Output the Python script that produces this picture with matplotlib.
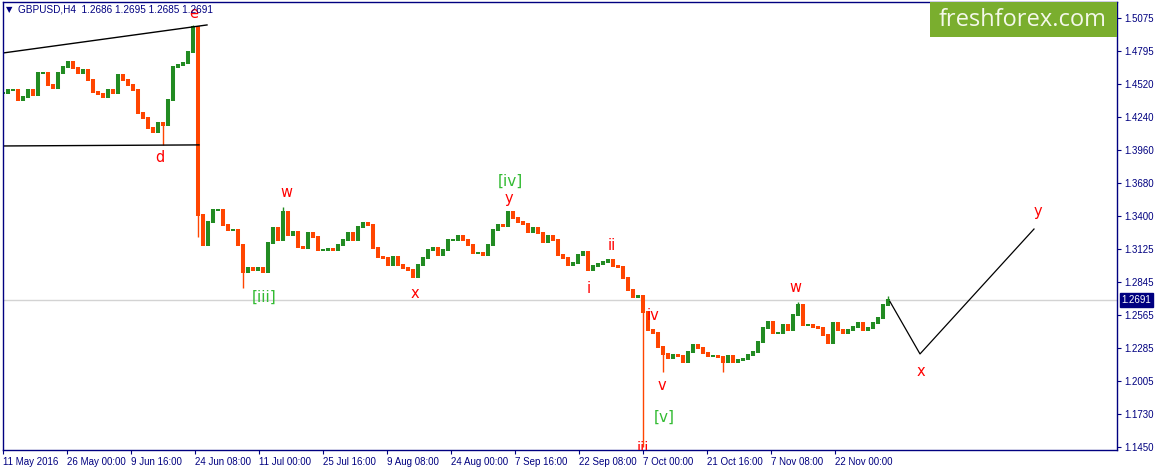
import numpy as np
import matplotlib
matplotlib.use("Agg")
import matplotlib.pyplot as plt
import matplotlib.transforms as mtransforms
from matplotlib.patches import Rectangle

# GBPUSD H4 closes, sampled every 5 bars starting at bar 3
close = [
    1.4441, 1.4466, 1.4466, 1.4382, 1.4407, 1.4466, 1.4424, 1.4610, 1.4610, 1.4509,
    1.4483, 1.4610, 1.4661, 1.4703, 1.4652, 1.4610, 1.4635, 1.4551, 1.4450, 1.4433,
    1.4407, 1.4466, 1.4441, 1.4593, 1.4551, 1.4509, 1.4466, 1.4272, 1.4230, 1.4145,
    1.4112, 1.4187, 1.4171, 1.4382, 1.4661, 1.4678, 1.4695, 1.4787, 1.4999, 1.3410,
    1.3156, 1.3351, 1.3452, 1.3452, 1.3325, 1.3283, 1.3283, 1.3156, 1.2928, 1.2962,
    1.2945, 1.2962, 1.2928, 1.3173, 1.3300, 1.3198, 1.3435, 1.3241, 1.3266, 1.3139,
    1.3131, 1.3258, 1.3224, 1.3114, 1.3114, 1.3122, 1.3114, 1.3156, 1.3198, 1.3258,
    1.3198, 1.3308, 1.3342, 1.3325, 1.3131, 1.3055, 1.3046, 1.2987, 1.3055, 1.2987,
    1.2962, 1.2945, 1.2886, 1.2987, 1.3046, 1.3114, 1.3131, 1.3072, 1.3114, 1.3198,
    1.3198, 1.3232, 1.3198, 1.3156, 1.3089, 1.3089, 1.3072, 1.3156, 1.3283, 1.3325,
    1.3317, 1.3435, 1.3385, 1.3351, 1.3334, 1.3266, 1.3300, 1.3258, 1.3182, 1.3232,
    1.3198, 1.3072, 1.3046, 1.2987, 1.3004, 1.3072, 1.3097, 1.2945, 1.2978, 1.2995,
    1.3012, 1.3029, 1.2978, 1.2970, 1.2877, 1.2776, 1.2717, 1.2725, 1.2590, 1.2438,
    1.2412, 1.2294, 1.2235, 1.2201, 1.2226, 1.2218, 1.2167, 1.2252, 1.2311, 1.2286,
    1.2243, 1.2218, 1.2218, 1.2209, 1.2167, 1.2218, 1.2167, 1.2184, 1.2193, 1.2226,
    1.2252, 1.2336, 1.2455, 1.2505, 1.2412, 1.2412, 1.2480, 1.2438, 1.2564, 1.2649,
    1.2480, 1.2480, 1.2463, 1.2455, 1.2396, 1.2328, 1.2497, 1.2438, 1.2412, 1.2438,
    1.2463, 1.2497, 1.2438, 1.2455, 1.2497, 1.2539, 1.2649, 1.2691,
]
# long wicks
spike_bar = [163, 193, 198, 243, 283, 643, 663, 723, 798, 888]
spike_px = [1.4002, 1.5016, 1.3224, 1.2793, 1.3477, 1.1449, 1.2083, 1.2083, 1.2674, 1.2725]

# drawn lines
upper_bar, upper_px = [3, 207], [1.4779, 1.5016]
lower_bar, lower_px = [3, 199], [1.3993, 1.4002]
proj_bar, proj_px = [890, 920, 1034], [1.2677, 1.2235, 1.3291]

# wave labels
red_labels = [("e", 194, 1.5117), ("d", 160, 1.3892), ("w", 286, 1.3596),
              ("x", 415, 1.2750), ("y", 509, 1.3545), ("ii", 612, 1.3148),
              ("i", 589, 1.2784), ("iv", 653, 1.2556), ("v", 662, 1.1964),
              ("iii", 643, 1.1436), ("w", 795, 1.2793), ("x", 921, 1.2083),
              ("y", 1038, 1.3435)]
green_labels = [("[iii]", 264, 1.2717), ("[iv]", 510, 1.3697), ("[v]", 664, 1.1700)]

yticks = [1.5075, 1.4795, 1.4520, 1.4240, 1.3960, 1.3680, 1.3400, 1.3125,
          1.2845, 1.2565, 1.2285, 1.2005, 1.1730, 1.1450]
xtick_bar = [3, 67, 131, 195, 259, 323, 387, 451, 515, 579, 643, 707, 771, 835]
xtick_lab = ["11 May 2016", "26 May 00:00", "9 Jun 16:00", "24 Jun 08:00",
             "11 Jul 00:00", "25 Jul 16:00", "9 Aug 08:00", "24 Aug 00:00",
             "7 Sep 16:00", "22 Sep 08:00", "7 Oct 00:00", "21 Oct 16:00",
             "7 Nov 08:00", "22 Nov 00:00"]
last_price = 1.2691

navy = "#000080"
up_c, dn_c = "#228b22", "#ff4500"
plt.rcParams['font.family'] = ['Liberation Sans', 'DejaVu Sans']

W, H = 1156, 471
fig = plt.figure(figsize=(W / 100, H / 100), dpi=100)
ax = fig.add_axes([3 / W, 21 / H, 1114 / W, 448 / H])
ax.set_xlim(3, 1117)
ax.set_ylim(1.1423, 1.5210)

c = np.array(close)
bars = 3 + 5 * np.arange(len(c))
prev = np.r_[c[0], c[:-1]]
cols = np.where(c >= prev, up_c, dn_c)
lo = np.minimum(prev, c) - 0.0006
hi = np.maximum(prev, c) + 0.0006
ax.vlines(bars, lo, hi, colors=cols, lw=2.9)
col_of = dict(zip(bars, cols))
for b, p in zip(spike_bar, spike_px):
    cb = c[(b - 3) // 5]
    ax.vlines(b, min(cb, p), max(cb, p), colors=col_of[b], lw=1.0)

ax.axhline(last_price, color="#d3d3d3", lw=1, zorder=0)
ax.plot(upper_bar, upper_px, color="black", lw=1)
ax.plot(lower_bar, lower_px, color="black", lw=1)
ax.plot(proj_bar, proj_px, color="black", lw=0.9)

for t, b, p in red_labels:
    ax.text(b, p, t, color="red", fontsize=10.5, ha="center", va="center",
            family="DejaVu Sans", clip_on=True)
for t, b, p in green_labels:
    ax.text(b, p, t, color="#33bb33", fontsize=11, ha="center", va="center",
            family="DejaVu Sans")

for s in ax.spines.values():
    s.set_color(navy)
    s.set_linewidth(1)
ax.yaxis.tick_right()
ax.set_yticks(yticks)
ax.set_yticklabels([f"{v:.4f}" for v in yticks])
ax.set_xticks(xtick_bar)
ax.set_xticklabels(xtick_lab, ha="left")
ax.tick_params(colors=navy, labelcolor=navy, labelsize=7, length=3, width=0.8, pad=2)

# current price tag
tr = mtransforms.blended_transform_factory(ax.transAxes, ax.transData)
ax.text(1.004, last_price, f"{last_price:.4f}", transform=tr, color="white",
        fontsize=7, ha="left", va="center",
        bbox=dict(boxstyle="square,pad=0.2", fc=navy, ec=navy))

# header
fig.text(9 / W, 1 - 10 / H, "\u25bc", color=navy, fontsize=6, ha="center", va="center",
         family="DejaVu Sans")
fig.text(18 / W, 1 - 10 / H, "GBPUSD,H4  1.2686 1.2695 1.2685 1.2691", color=navy,
         fontsize=7.2, ha="left", va="center")

# logo
fig.patches.append(Rectangle((930 / W, 1 - 37 / H), 187 / W, 35 / H,
                             transform=fig.transFigure, fc="#7aae2e", ec="none"))
fig.text(1023 / W, 1 - 20 / H, "freshforex.com", color="#f4f8ea", fontsize=17,
         ha="center", va="center", family="Open Sans")

fig.savefig("out.png", dpi=100)
